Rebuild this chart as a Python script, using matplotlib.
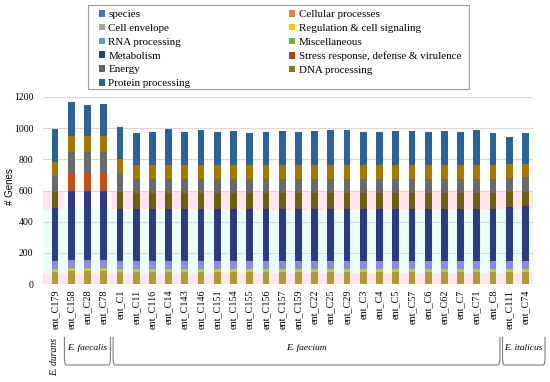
import numpy as np
import matplotlib
matplotlib.use("Agg")
import matplotlib.pyplot as plt
from matplotlib.patches import Patch, PathPatch, Rectangle
from matplotlib.path import Path
import matplotlib.transforms as mtransforms

# genomes (x tick labels)
genomes = ["ent_C179", "ent_C158", "ent_C28", "ent_C78", "ent_C1", "ent_C11", "ent_C116", "ent_C14",
           "ent_C143", "ent_C146", "ent_C151", "ent_C154", "ent_C155", "ent_C156", "ent_C157",
           "ent_C159", "ent_C22", "ent_C25", "ent_C29", "ent_C3", "ent_C4", "ent_C5", "ent_C57",
           "ent_C6", "ent_C62", "ent_C7", "ent_C71", "ent_C8", "ent_C111", "ent_C74"]

# stacked segments, bottom to top
cell_envelope = [80, 82, 82, 82] + [80] * 24 + [80, 80]
misc = [18, 18, 18, 18] + [18] * 24 + [18, 18]
rna = [52, 55, 55, 55] + [52] * 24 + [52, 52]
metabolism = [335, 445, 445, 445] + [320] * 24 + [335, 340]
regulation = [0, 0, 0, 0] + [12] * 24 + [8, 8]
dna = [105, 0, 0, 0] + [110] + [100] * 23 + [95, 95]
stress = [0, 110, 110, 110] + [0] * 24 + [0, 0]
energy = [100, 135, 135, 135] + [120] + [95] * 23 + [95, 95]
cellular = [92, 105, 105, 105] + [90] + [85] * 23 + [85, 85]
protein = [213, 220, 200, 205, 208, 208, 216, 233, 213, 228, 213, 223, 208, 216, 218, 216,
           220, 228, 228, 216, 216, 218, 218, 216, 218, 213, 228, 206, 177, 199]

segments = [cell_envelope, misc, rna, metabolism, regulation, dna, stress, energy, cellular, protein]
seg_colors = ["#B09A38", "#B8CC48", "#8C8CDC", "#2E3A82", "#3A2E8C", "#6E5E10",
              "#C0501E", "#6A6A6A", "#A27A00", "#2B6399"]

# legend (as in the original chart)
legend_labels = ["species", "Cell envelope", "RNA processing", "Metabolism", "Energy",
                 "Protein processing", "Cellular processes", "Regulation & cell signaling",
                 "Miscellaneous", "Stress response, defense & virulence", "DNA processing"]
legend_colors = ["#4472C4", "#A5A5A5", "#5B9BD5", "#264478", "#636363", "#255E91",
                 "#ED7D31", "#FFC000", "#70AD47", "#9E480E", "#997300"]

# species groups: (label, first bar, last bar)
groups = [("E. durans", 0, 0), ("E. faecalis", 1, 3), ("E. faecium", 4, 27), ("E. italicus", 28, 29)]

serif = "Liberation Serif"
W, H = 550, 382
fig = plt.figure(figsize=(5.5, 3.82), dpi=100)
ax = fig.add_axes([43 / W, 1 - 284 / H, 490 / W, 187 / H])

x = np.arange(len(genomes))
xmin, xmax = -0.74, 29.46

# background shading bands
ax.axhspan(0, 80, color="#FFE6EE", zorder=0)
ax.axhspan(80, 488, color="#EDFCFC", zorder=0)
span = xmax - xmin
ax.axhspan(488, 590, xmin=0, xmax=(0.42 - xmin) / span, color="#FFE6EE", zorder=0)
ax.axhspan(488, 590, xmin=(3.5 - xmin) / span, xmax=1, color="#FFE6EE", zorder=0)

bottom = np.zeros(len(genomes))
for vals, c in zip(segments, seg_colors):
    ax.bar(x, vals, width=0.42, bottom=bottom, color=c, zorder=3)
    bottom += np.array(vals)

ax.set_xlim(xmin, xmax)
ax.set_ylim(0, 1200)
ax.set_yticks(range(0, 1201, 200))
ax.yaxis.grid(True, color="#D9D9D9", linewidth=0.8, zorder=1)
ax.set_axisbelow(True)
for s in ax.spines.values():
    s.set_visible(False)
ax.tick_params(length=0)
ax.set_xticks(x)
ax.set_xticklabels(genomes, rotation=90, fontfamily=serif, fontsize=7.3)
for t in ax.get_yticklabels():
    t.set_fontfamily(serif)
    t.set_fontsize(7)
ax.tick_params(axis="y", pad=7)
ax.tick_params(axis="x", pad=4)
fig.text(10 / W, 1 - 187 / H, "# Genes", rotation=90, ha="center", va="center",
         fontfamily="Liberation Sans", fontsize=7)

# species brackets under the tick labels
trans = mtransforms.blended_transform_factory(ax.transData, fig.transFigure)
ytop = 1 - 337 / H
ybot = 1 - 365 / H
r = 0.12
for name, a, b in groups:
    if a == b:
        ax.text(a, 1 - 357 / H, name, transform=trans, rotation=90, ha="center", va="center",
                fontfamily=serif, fontstyle="italic", fontsize=7)
        continue
    left = a - 0.42
    right = b + 0.42 if b < 29 else b + 1.2
    dy = 0.02
    verts = [(left, ytop), (left, ybot + dy), (left, ybot), (left + r, ybot),
             (right - r, ybot), (right, ybot), (right, ybot + dy), (right, ytop)]
    codes = [Path.MOVETO, Path.LINETO, Path.CURVE3, Path.CURVE3,
             Path.LINETO, Path.CURVE3, Path.CURVE3, Path.LINETO]
    ax.add_patch(PathPatch(Path(verts, codes), transform=trans, fill=False,
                           edgecolor="#7F7F7F", linewidth=0.8, clip_on=False))
    ax.text((left + right) / 2, 1 - 348 / H, name, transform=trans, ha="center", va="center",
            fontfamily=serif, fontstyle="italic", fontsize=6.8)

# legend box drawn separately so the padding can match
fig.patches.append(Rectangle((88 / W, 1 - 89 / H), 381 / W, 84 / H, transform=fig.transFigure,
                             fill=False, edgecolor="#9A9A9A", linewidth=0.8))
handles = [Patch(facecolor=c, edgecolor="none") for c in legend_colors]
fig.legend(handles, legend_labels, loc="upper left", bbox_to_anchor=(99 / W, 1 - 10 / H),
           ncol=2, prop={"family": serif, "size": 7.9}, frameon=False,
           handlelength=0.55, handleheight=0.55, handletextpad=0.3,
           labelspacing=0.42, columnspacing=9.0, borderpad=0, borderaxespad=0)

fig.savefig("out.png", dpi=100)
